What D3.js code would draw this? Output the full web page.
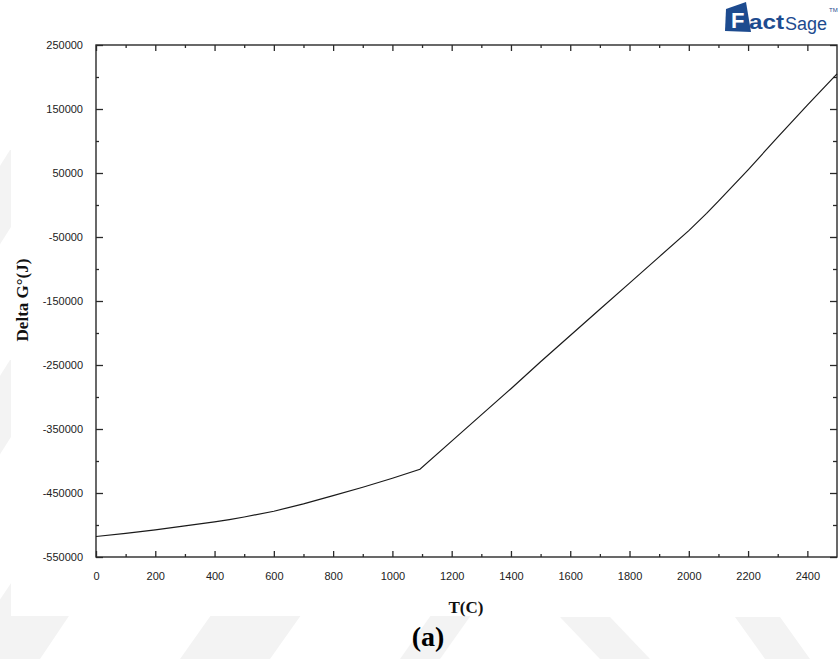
<!DOCTYPE html>
<html>
<head>
<meta charset="utf-8">
<script src="https://cdn.jsdelivr.net/npm/d3@7"></script>
<style>
  html, body { margin: 0; padding: 0; background: #ffffff; }
  svg { display: block; }
</style>
</head>
<body>
<svg id="chart" width="838" height="659"></svg>
<script>
// Standard Gibbs energy change of the reaction vs temperature
const temperatures = [0, 100, 200, 300, 400, 450, 500, 600, 700, 800, 900, 1000, 1093,
  1200, 1300, 1400, 1500, 1600, 1700, 1800, 1900, 2000, 2060, 2100, 2200, 2300, 2400, 2500];
const deltaG = [-518000, -513000, -507500, -501500, -495000, -491500, -487500, -478500,
  -467000, -454000, -441000, -427000, -413000, -369000, -328000, -287000, -245000,
  -204000, -163000, -122000, -81000, -40000, -13000, 6000, 55000, 106000, 156000, 205000];

const xMajorTicks = [0, 200, 400, 600, 800, 1000, 1200, 1400, 1600, 1800, 2000, 2200, 2400];
const xMinorTicks = d3.range(100, 2500, 200);
const yMajorTicks = [250000, 150000, 50000, -50000, -150000, -250000, -350000, -450000, -550000];
const yMinorTicks = [200000, 100000, 0, -100000, -200000, -300000, -400000, -500000];

const xTitle = "T(C)";
const yTitle = "Delta G°(J)";
const caption = "(a)";

const svg = d3.select("#chart");
const W = 838, H = 659;
const plot = { left: 96, right: 837, top: 45, bottom: 557 };

// faint diagonal bands in the page background
const bands = [
  [[-40, 659], [40, 659], [120, 540], [40, 540]],
  [[-60, 470], [-10, 470], [60, 360], [10, 360]],
  [[-60, 260], [-10, 260], [60, 150], [10, 150]],
  [[180, 659], [270, 659], [340, 560], [250, 560]],
  [[400, 659], [440, 659], [510, 560], [470, 560]],
  [[560, 617], [610, 617], [650, 659], [600, 659]],
  [[735, 617], [780, 617], [810, 659], [765, 659]]
];
svg.append("g").selectAll("path").data(bands).join("path")
  .attr("d", d => d3.line()(d) + "Z")
  .attr("fill", "#f3f3f3");

// white panel
svg.append("rect").attr("x", 11).attr("y", 0).attr("width", W - 11).attr("height", 616)
  .attr("fill", "#ffffff");

const x = d3.scaleLinear().domain([0, 2500]).range([plot.left, plot.right]);
const y = d3.scaleLinear().domain([-550000, 250000]).range([plot.bottom, plot.top]);

const axisColor = "#2a2a2a";
const tickFont = "'Liberation Sans', Arial, sans-serif";
const plain = d => String(d);   // ASCII hyphen for negatives

function styleAxis(g) {
  g.select(".domain").remove();
  g.selectAll("line").attr("stroke", axisColor).attr("stroke-width", 1.3);
  g.selectAll("text").attr("fill", "#222").style("font-family", tickFont).style("font-size", "11px");
}

// bottom axis with labels, ticks pointing into the plot
svg.append("g").attr("transform", `translate(0,${plot.bottom})`)
  .call(d3.axisBottom(x).tickValues(xMajorTicks).tickSize(-6).tickPadding(15).tickFormat(plain))
  .call(styleAxis);
svg.append("g").attr("transform", `translate(0,${plot.bottom})`)
  .call(d3.axisBottom(x).tickValues(xMinorTicks).tickSize(-3).tickFormat(""))
  .call(styleAxis);

// top axis ticks
svg.append("g").attr("transform", `translate(0,${plot.top})`)
  .call(d3.axisTop(x).tickValues(xMajorTicks).tickSize(-6).tickFormat(""))
  .call(styleAxis);
svg.append("g").attr("transform", `translate(0,${plot.top})`)
  .call(d3.axisTop(x).tickValues(xMinorTicks).tickSize(-3).tickFormat(""))
  .call(styleAxis);

// left axis with labels
svg.append("g").attr("transform", `translate(${plot.left},0)`)
  .call(d3.axisLeft(y).tickValues(yMajorTicks).tickSize(-7).tickPadding(13).tickFormat(plain))
  .call(styleAxis);
svg.append("g").attr("transform", `translate(${plot.left},0)`)
  .call(d3.axisLeft(y).tickValues(yMinorTicks).tickSize(-3).tickFormat(""))
  .call(styleAxis);

// right axis ticks
svg.append("g").attr("transform", `translate(${plot.right},0)`)
  .call(d3.axisRight(y).tickValues(yMajorTicks).tickSize(-7).tickFormat(""))
  .call(styleAxis);
svg.append("g").attr("transform", `translate(${plot.right},0)`)
  .call(d3.axisRight(y).tickValues(yMinorTicks).tickSize(-4).tickFormat(""))
  .call(styleAxis);

// frame
svg.append("rect")
  .attr("x", plot.left).attr("y", plot.top)
  .attr("width", plot.right - plot.left).attr("height", plot.bottom - plot.top)
  .attr("fill", "none").attr("stroke", axisColor).attr("stroke-width", 1.4);

// data curve
const pts = temperatures.map((t, i) => [t, deltaG[i]]);
svg.append("path").datum(pts)
  .attr("fill", "none").attr("stroke", "#1a1a1a").attr("stroke-width", 1.2)
  .attr("d", d3.line().x(d => x(d[0])).y(d => y(d[1])));

// titles
const serif = "'Liberation Serif', 'Times New Roman', serif";
svg.append("text").attr("x", 466).attr("y", 613).attr("text-anchor", "middle")
  .style("font-family", serif).style("font-weight", "bold").style("font-size", "17px")
  .attr("fill", "#111").text(xTitle);
svg.append("text").attr("transform", "translate(28,300) rotate(-90)").attr("text-anchor", "middle")
  .style("font-family", serif).style("font-weight", "bold").style("font-size", "17px")
  .attr("fill", "#111").text(yTitle);
svg.append("text").attr("x", 428).attr("y", 646).attr("text-anchor", "middle")
  .style("font-family", serif).style("font-weight", "bold").style("font-size", "28px")
  .attr("fill", "#000").text(caption);

// FactSage mark
const logoFont = "'Liberation Sans', Arial, sans-serif";
const logo = svg.append("g").attr("transform", "translate(724,2)");
logo.append("path")
  .attr("d", "M2,7 L22,0 L27,30 L1,29 Z")
  .attr("fill", "#1d4b8f");
logo.append("text").attr("x", 7).attr("y", 26)
  .style("font-family", logoFont).style("font-weight", "bold")
  .style("font-size", "22px").attr("fill", "#ffffff").text("F");
logo.append("text").attr("x", 25).attr("y", 27)
  .style("font-family", logoFont).style("font-weight", "bold")
  .style("font-size", "21px").attr("fill", "#1d4b8f")
  .attr("textLength", 35).attr("lengthAdjust", "spacingAndGlyphs").text("act");
logo.append("text").attr("x", 61).attr("y", 28)
  .style("font-family", logoFont)
  .style("font-size", "18px").attr("fill", "#1d4b8f").text("Sage");
logo.append("text").attr("x", 105).attr("y", 10)
  .style("font-family", logoFont)
  .style("font-size", "6px").attr("fill", "#1d4b8f").text("TM");
</script>
</body>
</html>
